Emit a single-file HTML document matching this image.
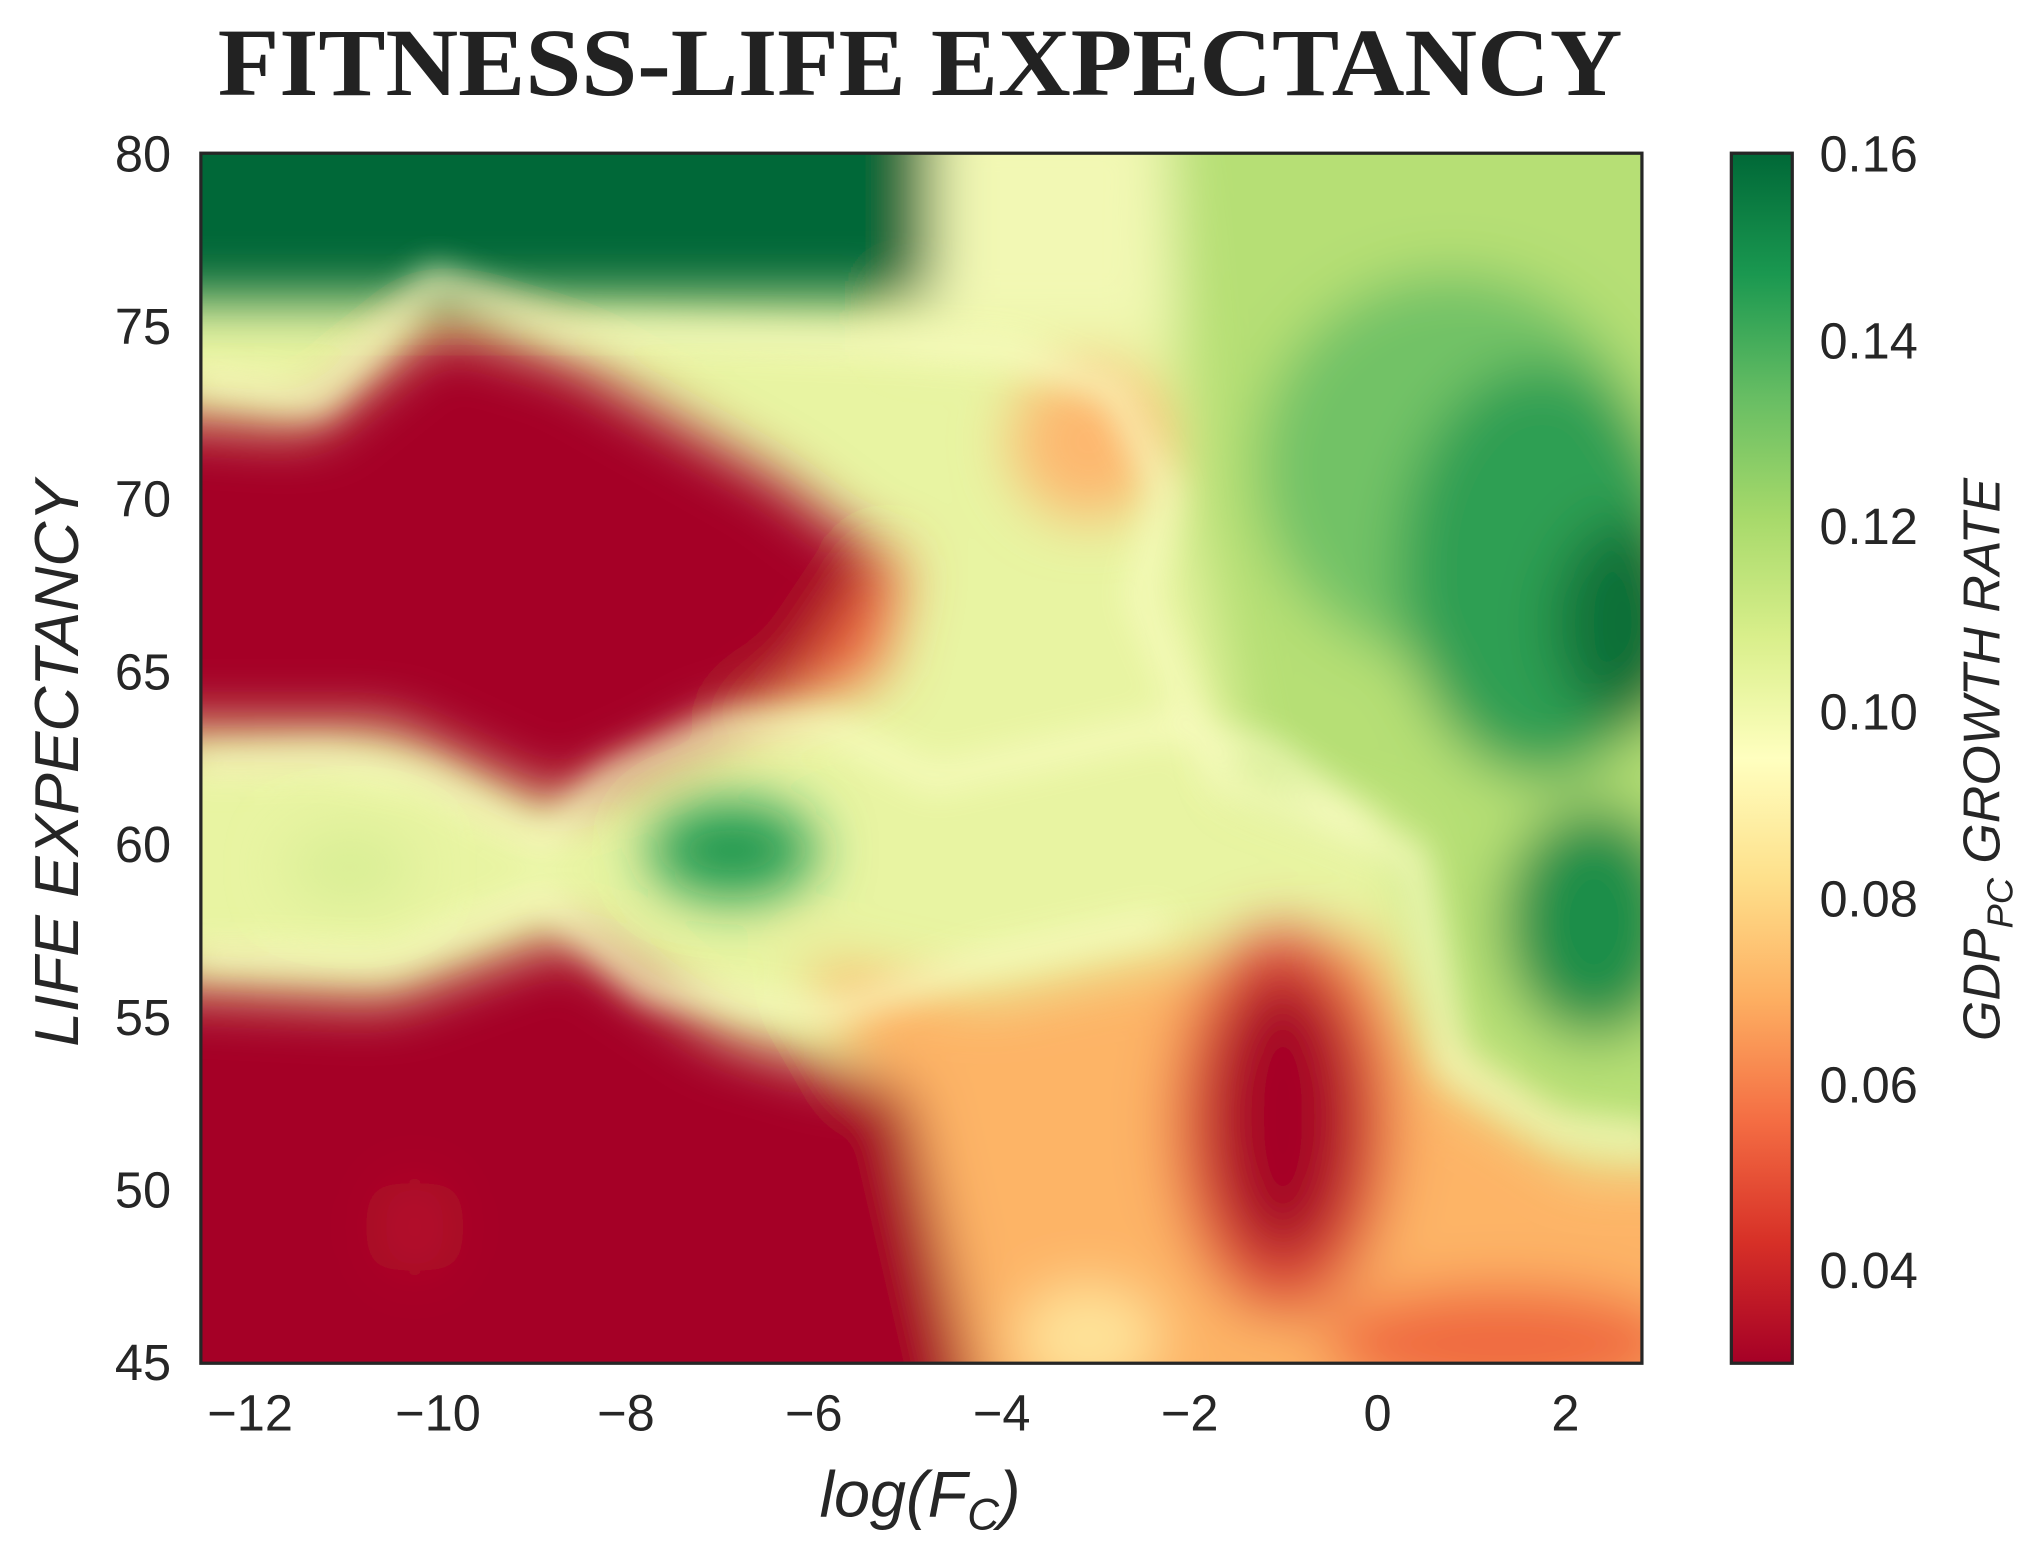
<!DOCTYPE html>
<html><head><meta charset="utf-8"><style>html,body{margin:0;padding:0;background:#fff}svg{display:block}</style></head>
<body>
<svg width="2032" height="1545" viewBox="0 0 1568 1190" xmlns="http://www.w3.org/2000/svg" preserveAspectRatio="none">
<defs>
<clipPath id="c"><rect x="155" y="118" width="1112" height="932"/></clipPath>
<filter id="b" x="-20%" y="-20%" width="140%" height="140%"><feGaussianBlur stdDeviation="22"/></filter>
<filter id="b2" x="-30%" y="-30%" width="160%" height="160%"><feGaussianBlur stdDeviation="13"/></filter>
<linearGradient id="cb" x1="0" y1="1" x2="0" y2="0">
<stop offset="0" stop-color="#a50026"/><stop offset="0.1" stop-color="#d73027"/><stop offset="0.2" stop-color="#f46d43"/><stop offset="0.3" stop-color="#fdae61"/><stop offset="0.4" stop-color="#fee08b"/><stop offset="0.5" stop-color="#ffffbf"/><stop offset="0.6" stop-color="#d9ef8b"/><stop offset="0.7" stop-color="#a6d96a"/><stop offset="0.8" stop-color="#66bd63"/><stop offset="0.9" stop-color="#1a9850"/><stop offset="1" stop-color="#006837"/>
</linearGradient>
</defs>
<g clip-path="url(#c)">
<rect x="100" y="80" width="1250" height="1020" fill="#e8f4a2"/>
<g filter="url(#b)">
<path d="M900 60 L1320 60 L1320 880 L1200 870 L1110 800 L1080 640 L960 600 L920 400 Z" fill="#b6df74"/>
<ellipse cx="1120" cy="360" rx="150" ry="150" fill="#72c266"/>
<ellipse cx="1190" cy="440" rx="110" ry="160" fill="#2f9f52"/>
<ellipse cx="1255" cy="480" rx="55" ry="80" fill="#0a7038"/>
<ellipse cx="1230" cy="710" rx="70" ry="90" fill="#1e8e4a"/>
<rect x="700" y="80" width="200" height="180" fill="#f2f8b4"/>
<path d="M620 740 L760 770 L900 740 L1060 720 L1110 830 L1220 900 L1320 900 L1320 1100 L740 1100 L700 880 Z" fill="#fdb466"/>
<ellipse cx="990" cy="865" rx="85" ry="150" fill="#e0503a"/>
<ellipse cx="990" cy="860" rx="55" ry="110" fill="#a50026"/>
<ellipse cx="1160" cy="1035" rx="140" ry="45" fill="#f06a40"/>
<ellipse cx="840" cy="1030" rx="55" ry="40" fill="#fee49a"/>
<ellipse cx="840" cy="340" rx="60" ry="60" fill="#fdb870"/>
<path d="M540 390 L700 430 L680 520 L560 560 L500 540 Z" fill="#f06a40"/>
<rect x="90" y="60" width="630" height="170" fill="#006837"/>
<ellipse cx="340" cy="150" rx="50" ry="30" fill="#006837"/>
<path d="M90 320 L240 330 L340 250 L440 280 L600 370 L680 430 L620 520 L520 580 L430 620 L300 560 L90 560 Z" fill="#a50026"/>
<path d="M90 760 L300 770 L440 720 L560 800 L700 840 L760 1100 L90 1100 Z" fill="#a50026"/>
<ellipse cx="565" cy="655" rx="65" ry="38" fill="#1a9850"/>
<ellipse cx="270" cy="668" rx="50" ry="28" fill="#d8ee94"/>
<ellipse cx="320" cy="945" rx="25" ry="35" fill="#b8142a"/>
</g>
<g filter="url(#b2)" fill="none" stroke="#fbfdc4" stroke-width="18" opacity="0.85">
<path d="M150 290 L245 308 L335 215 L440 255 L700 265 L780 270 L860 300 L900 380 L880 460 L940 600 L1090 660 L1120 820 L1200 870 L1280 880"/>
<path d="M150 590 L250 585 L330 600 L420 650 L470 600 L560 560 L640 560 L720 600 L900 560 L980 580 L1060 640"/>
<path d="M150 735 L300 740 L420 690 L500 760 L640 780 L760 740 L900 710"/>
</g>
</g>
<rect x="155" y="118" width="1112" height="932" fill="none" stroke="#262626" stroke-width="2.5"/>
<rect x="1336" y="118" width="47" height="932" fill="url(#cb)" stroke="#262626" stroke-width="2.5"/>
<text x="710" y="73" text-anchor="middle" font-family="Liberation Serif, serif" font-weight="bold" font-size="74" fill="#222" textLength="1084" lengthAdjust="spacingAndGlyphs">FITNESS-LIFE EXPECTANCY</text>
<g font-family="Liberation Sans, sans-serif" font-size="39" fill="#262626" text-anchor="end">
<text x="132" y="132">80</text><text x="132" y="265">75</text><text x="132" y="398">70</text><text x="132" y="531">65</text><text x="132" y="664">60</text><text x="132" y="797">55</text><text x="132" y="930">50</text><text x="132" y="1063">45</text>
</g>
<g font-family="Liberation Sans, sans-serif" font-size="39" fill="#262626" text-anchor="middle">
<text x="193" y="1102">−12</text><text x="338" y="1102">−10</text><text x="483" y="1102">−8</text><text x="628" y="1102">−6</text><text x="773" y="1102">−4</text><text x="918" y="1102">−2</text><text x="1063" y="1102">0</text><text x="1208" y="1102">2</text>
</g>
<g font-family="Liberation Sans, sans-serif" font-size="39" fill="#262626">
<text x="1404" y="132">0.16</text><text x="1404" y="276">0.14</text><text x="1404" y="419">0.12</text><text x="1404" y="562">0.10</text><text x="1404" y="706">0.08</text><text x="1404" y="849">0.06</text><text x="1404" y="992">0.04</text>
</g>
<text x="710" y="1168" text-anchor="middle" font-family="Liberation Sans, sans-serif" font-style="italic" font-size="50" fill="#262626">log(<tspan>F</tspan><tspan font-size="34" dy="10">C</tspan><tspan dy="-10">)</tspan></text>
<text transform="translate(60,588) rotate(-90)" text-anchor="middle" font-family="Liberation Sans, sans-serif" font-style="italic" font-size="48" fill="#262626">LIFE EXPECTANCY</text>
<text transform="translate(1543,585) rotate(-90)" text-anchor="middle" font-family="Liberation Sans, sans-serif" font-style="italic" font-size="40" fill="#262626">GDP<tspan font-size="28" dy="10">PC</tspan><tspan dy="-10"> GROWTH RATE</tspan></text>
</svg>
</body></html>
